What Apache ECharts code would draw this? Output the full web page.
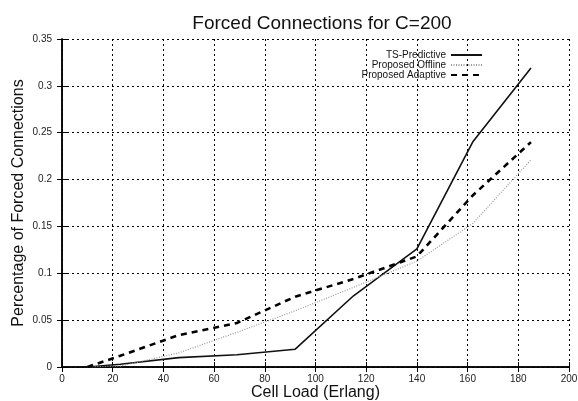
<!DOCTYPE html>
<html>
<head>
<meta charset="utf-8">
<script src="https://cdn.jsdelivr.net/npm/echarts@6/dist/echarts.min.js"></script>
<style>
  html, body { margin: 0; padding: 0; background: #fff; }
  #chart { width: 578px; height: 401px; }
</style>
</head>
<body>
<div id="chart"></div>
<script>
// Cell load (Erlang) at each simulated point
const loads = [10, 23, 46, 69, 92, 115, 140, 162, 185];
// Fraction of forced connections per scheme
const tsPredictive     = [0, 0.003, 0.010, 0.013, 0.019, 0.076, 0.126, 0.240, 0.319];
const proposedOffline  = [0, 0.001, 0.015, 0.037, 0.060, 0.085, 0.113, 0.153, 0.221];
const proposedAdaptive = [0, 0.012, 0.034, 0.047, 0.075, 0.094, 0.118, 0.183, 0.240];
const seriesNames = ['TS-Predictive', 'Proposed Offline', 'Proposed Adaptive'];

const pairs = (ys) => loads.map((x, i) => [x, ys[i]]);
const font = 'Liberation Sans, Arial, sans-serif';

const gridLine = { show: true, lineStyle: { color: '#000', type: [2, 3], width: 1 } };
const baseX = {
  type: 'value', min: 0, max: 200, interval: 20,
  axisLine: { show: true, lineStyle: { color: '#000', width: 1.5 } },
  axisTick: { show: true, inside: true, length: 5, lineStyle: { color: '#000' } }
};
const baseY = {
  type: 'value', min: 0, max: 0.35, interval: 0.05,
  axisLine: { show: true, lineStyle: { color: '#000', width: 1.5 } },
  axisTick: { show: true, inside: true, length: 5, lineStyle: { color: '#000' } }
};

const chart = echarts.init(document.getElementById('chart'));
chart.setOption({
  backgroundColor: '#fff',
  animation: false,
  title: {
    text: 'Forced Connections for C=200',
    left: 317, top: 9, textAlign: 'center',
    textStyle: { fontFamily: font, fontSize: 19, fontWeight: 'normal', color: '#111' }
  },
  legend: {
    data: seriesNames,
    orient: 'vertical', align: 'right',
    right: 90, top: 45,
    itemWidth: 31, itemHeight: 8, itemGap: 0,
    itemStyle: { color: 'rgba(0,0,0,0)', borderColor: 'rgba(0,0,0,0)', borderWidth: 0 },
    textStyle: { fontFamily: font, fontSize: 10, lineHeight: 10, color: '#111' }
  },
  grid: { left: 62, right: 9, top: 39, bottom: 34, outerBoundsMode: 'none', containLabel: false },
  xAxis: [
    Object.assign({}, baseX, {
      position: 'bottom',
      name: 'Cell Load (Erlang)', nameLocation: 'middle', nameGap: 18, nameMoveOverlap: false,
      nameTextStyle: { fontFamily: font, fontSize: 16, color: '#111' },
      axisLabel: { fontFamily: font, fontSize: 10, color: '#222', margin: 7 },
      splitLine: gridLine
    }),
    Object.assign({}, baseX, {
      position: 'top', axisLabel: { show: false }, splitLine: { show: false }
    })
  ],
  yAxis: [
    Object.assign({}, baseY, {
      position: 'left',
      name: 'Percentage of Forced Connections', nameLocation: 'middle', nameGap: 35, nameMoveOverlap: false,
      nameTextStyle: { fontFamily: font, fontSize: 16, color: '#111' },
      axisLabel: { fontFamily: font, fontSize: 10, color: '#222', margin: 10 },
      splitLine: gridLine
    }),
    Object.assign({}, baseY, {
      position: 'right', axisLabel: { show: false }, splitLine: { show: false }
    })
  ],
  series: [
    {
      name: seriesNames[0], type: 'line', data: pairs(tsPredictive),
      showSymbol: false, symbol: 'none',
      lineStyle: { color: '#111', width: 1.6, type: 'solid' },
      itemStyle: { color: '#111' }
    },
    {
      name: seriesNames[1], type: 'line', data: pairs(proposedOffline),
      showSymbol: false, symbol: 'none',
      lineStyle: { color: '#999', width: 1.2, type: [1, 1.5] },
      itemStyle: { color: '#999' }
    },
    {
      name: seriesNames[2], type: 'line', data: pairs(proposedAdaptive),
      showSymbol: false, symbol: 'none',
      lineStyle: { color: '#000', width: 2.6, type: [6, 5] },
      itemStyle: { color: '#000' }
    }
  ]
});
</script>
</body>
</html>
